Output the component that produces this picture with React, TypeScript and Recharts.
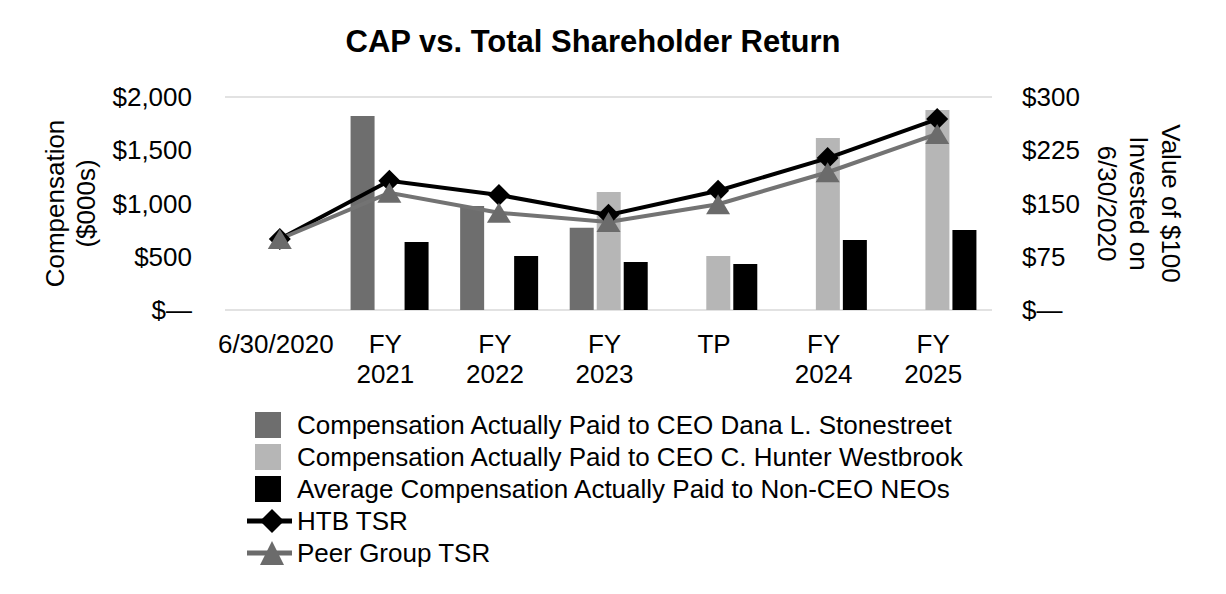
import React from 'react';
import {
  ComposedChart,
  Bar,
  Line,
  XAxis,
  YAxis,
  CartesianGrid,
} from 'recharts';

const categories = ['6/30/2020', 'FY 2021', 'FY 2022', 'FY 2023', 'TP', 'FY 2024', 'FY 2025'];
const capStonestreet = [null, 1822, 977, 773, null, null, null];
const capWestbrook = [null, null, null, 1108, 507, 1615, 1878];
const capNonCeo = [null, 638, 507, 451, 432, 657, 751];
const htbTsr = [100, 182, 162, 134, 168, 214, 269];
const peerTsr = [100, 165, 137, 124, 149, 194, 248];

const leftTicks = [0, 500, 1000, 1500, 2000];
const rightTicks = [0, 75, 150, 225, 300];

const data = categories.map((label, i) => ({
  label,
  dana: capStonestreet[i],
  hunter: capWestbrook[i],
  neo: capNonCeo[i],
  htb: htbTsr[i],
  peer: peerTsr[i],
}));

const FONT = '"Liberation Sans", Arial, sans-serif';

const Diamond = ({ cx, cy }: any) => {
  if (cx == null || cy == null) return null;
  return (
    <polygon
      points={`${cx},${cy - 11} ${cx + 11},${cy} ${cx},${cy + 11} ${cx - 11},${cy}`}
      fill="#000"
    />
  );
};

const Triangle = ({ cx, cy }: any) => {
  if (cx == null || cy == null) return null;
  return (
    <polygon
      points={`${cx},${cy - 10} ${cx + 12},${cy + 10} ${cx - 12},${cy + 10}`}
      fill="#6b6b6b"
    />
  );
};

function CategoryTick({ x, y, payload }: any) {
  const parts = String(payload.value).split(' ');
  return (
    <text x={x - 4} y={y} textAnchor="middle" fill="#000" fontSize={26} fontFamily={FONT}>
      {parts.map((p, i) => (
        <tspan key={i} x={x - 4} dy={i === 0 ? 35 : 30}>
          {p}
        </tspan>
      ))}
    </text>
  );
}

const fmtLeft = (v: number) => (v === 0 ? '$—' : `$${v.toLocaleString('en-US')}`);
const fmtRight = (v: number) => (v === 0 ? '$—' : `$${v}`);

function LeftTitle({ viewBox }: any) {
  const cy = viewBox.y + viewBox.height / 2;
  return (
    <text
      transform={`translate(64, ${cy}) rotate(-90)`}
      textAnchor="middle"
      fill="#000"
      fontSize={26}
      fontFamily={FONT}
    >
      <tspan x={0} dy={0}>Compensation</tspan>
      <tspan x={0} dy={31}>($000s)</tspan>
    </text>
  );
}

function RightTitle({ viewBox }: any) {
  const cy = viewBox.y + viewBox.height / 2;
  return (
    <text
      transform={`translate(1162, ${cy}) rotate(90)`}
      textAnchor="middle"
      fill="#000"
      fontSize={26}
      fontFamily={FONT}
    >
      <tspan x={0} dy={0}>Value of $100</tspan>
      <tspan x={0} dy={32}>Invested on</tspan>
      <tspan x={0} dy={32}>6/30/2020</tspan>
    </text>
  );
}

const legendItems = [
  { name: 'Compensation Actually Paid to CEO Dana L. Stonestreet', kind: 'bar', color: '#6e6e6e' },
  { name: 'Compensation Actually Paid to CEO C. Hunter Westbrook', kind: 'bar', color: '#b6b6b6' },
  { name: 'Average Compensation Actually Paid to Non-CEO NEOs', kind: 'bar', color: '#000' },
  { name: 'HTB TSR', kind: 'diamond', color: '#000' },
  { name: 'Peer Group TSR', kind: 'triangle', color: '#6b6b6b' },
];

function ChartLegend() {
  return (
    <div style={{ position: 'absolute', left: 244, top: 409, fontFamily: FONT, fontSize: 26, color: '#000' }}>
      {legendItems.map((it) => (
        <div key={it.name} style={{ display: 'flex', alignItems: 'center', height: 32 }}>
          <svg width={53} height={32} style={{ flex: 'none' }}>
            {it.kind === 'bar' ? (
              <rect x={11} y={3} width={26} height={26} fill={it.color} />
            ) : (
              <g>
                <line x1={3} y1={16} x2={48} y2={16} stroke={it.color} strokeWidth={5} />
                {it.kind === 'diamond' ? (
                  <polygon points="28,4 40,16 28,28 16,16" fill={it.color} />
                ) : (
                  <polygon points="28,4 40,28 16,28" fill={it.color} />
                )}
              </g>
            )}
          </svg>
          <span style={{ whiteSpace: 'nowrap' }}>{it.name}</span>
        </div>
      ))}
    </div>
  );
}

export default function App() {
  return (
    <div style={{ position: 'absolute', left: 0, top: 0, width: 1226, height: 594, background: '#fff', fontFamily: FONT }}>
      <div
        style={{
          position: 'absolute',
          left: -20,
          width: 1226,
          top: 24,
          textAlign: 'center',
          fontWeight: 'bold',
          fontSize: 31,
          lineHeight: '36px',
        }}
      >
        CAP vs. Total Shareholder Return
      </div>
      <div style={{ position: 'absolute', left: 0, top: 0 }}>
        <ComposedChart
          width={1226}
          height={594}
          data={data}
          margin={{ top: 97, right: 134, bottom: 204, left: 125 }}
          barSize={24}
          barGap={3}
          style={{ fontFamily: FONT }}
        >
          <CartesianGrid horizontal vertical={false} stroke="#d9d9d9" strokeWidth={1.5} />
          <XAxis
            dataKey="label"
            axisLine={false}
            tickLine={false}
            interval={0}
            height={80}
            tick={<CategoryTick />}
          />
          <YAxis
            yAxisId="left"
            orientation="left"
            width={100}
            domain={[0, 2000]}
            ticks={leftTicks}
            tickFormatter={fmtLeft}
            axisLine={false}
            tickLine={false}
            tickSize={0}
            tickMargin={33}
            tick={{ fill: '#000', fontSize: 26, fontFamily: FONT }}
            label={<LeftTitle />}
          />
          <YAxis
            yAxisId="right"
            orientation="right"
            width={100}
            domain={[0, 300]}
            ticks={rightTicks}
            tickFormatter={fmtRight}
            axisLine={false}
            tickLine={false}
            tickSize={0}
            tickMargin={30}
            tick={{ fill: '#000', fontSize: 26, fontFamily: FONT }}
            label={<RightTitle />}
          />
          <Bar yAxisId="left" dataKey="dana" fill="#6e6e6e" isAnimationActive={false} />
          <Bar yAxisId="left" dataKey="hunter" fill="#b6b6b6" isAnimationActive={false} />
          <Bar yAxisId="left" dataKey="neo" fill="#000" isAnimationActive={false} />
          <Line
            yAxisId="right"
            dataKey="htb"
            stroke="#000"
            strokeWidth={4}
            dot={<Diamond />}
            activeDot={false}
            isAnimationActive={false}
          />
          <Line
            yAxisId="right"
            dataKey="peer"
            stroke="#737373"
            strokeWidth={4}
            dot={<Triangle />}
            activeDot={false}
            isAnimationActive={false}
          />
        </ComposedChart>
      </div>
      <ChartLegend />
    </div>
  );
}
